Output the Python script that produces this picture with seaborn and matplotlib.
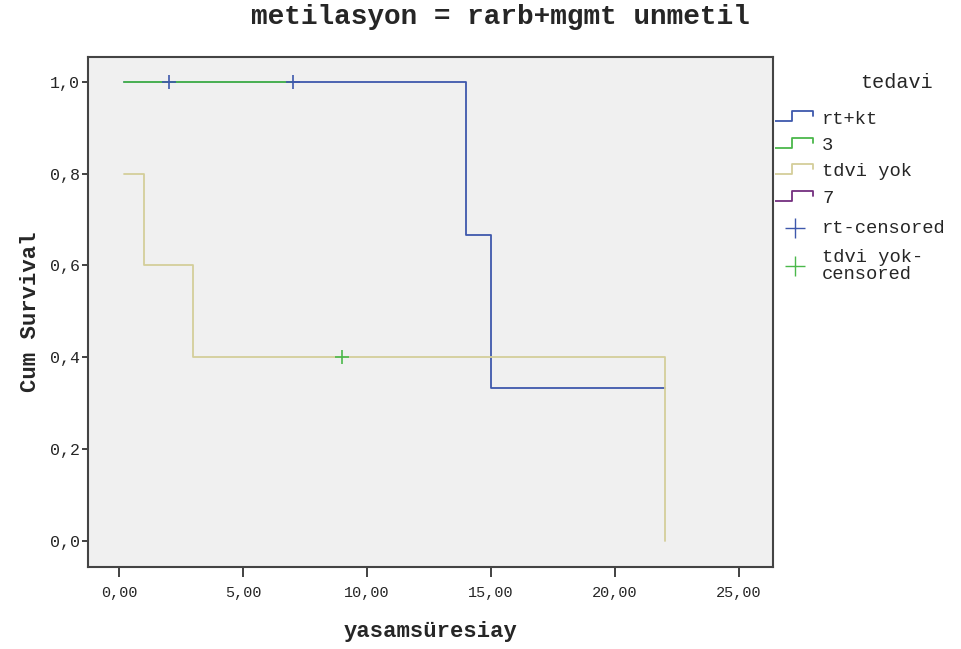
import matplotlib
matplotlib.use("Agg")
import matplotlib.pyplot as plt
import seaborn as sns
import pandas as pd

# Kaplan-Meier steps
groups = ["rt+kt", "3", "tdvi yok", "7"]
rt_time = [0.2, 14.0, 15.0, 22.0]
rt_surv = [1.0, 0.667, 0.333, 0.333]
g3_time = [0.2, 7.0]
g3_surv = [1.0, 1.0]
tdvi_time = [0.2, 1.0, 3.0, 22.0]
tdvi_surv = [0.8, 0.6, 0.4, 0.0]

rt_cens_time = [2.0, 7.0]
rt_cens_surv = [1.0, 1.0]
tdvi_cens_time = [9.0]
tdvi_cens_surv = [0.4]

xticks = [0, 5, 10, 15, 20, 25]
xticklabels = ["0,00", "5,00", "10,00", "15,00", "20,00", "25,00"]
yticks = [0.0, 0.2, 0.4, 0.6, 0.8, 1.0]
yticklabels = ["0,0", "0,2", "0,4", "0,6", "0,8", "1,0"]

colors = {"rt+kt": "#3e58ac", "3": "#4bb84b", "tdvi yok": "#d4ce9a", "7": "#742f7f"}
FONT = "Liberation Mono"

sns.set_style("white")
plt.rcParams["font.family"] = [FONT, "DejaVu Sans"]

fig = plt.figure(figsize=(9.61, 6.49), dpi=100)
ax = fig.add_axes([88 / 961, 82 / 649, 685 / 961, 510 / 649])
ax.set_facecolor("#f0f0f0")

rt = pd.DataFrame({"t": rt_time, "s": rt_surv})
g3 = pd.DataFrame({"t": g3_time, "s": g3_surv})
td = pd.DataFrame({"t": tdvi_time, "s": tdvi_surv})

sns.lineplot(data=rt, x="t", y="s", ax=ax, color=colors["rt+kt"], drawstyle="steps-post", lw=1.3, estimator=None)
sns.lineplot(data=td, x="t", y="s", ax=ax, color=colors["tdvi yok"], drawstyle="steps-post", lw=1.3, estimator=None)
sns.lineplot(data=g3, x="t", y="s", ax=ax, color=colors["3"], drawstyle="steps-post", lw=1.3, estimator=None)

ax.plot(rt_cens_time, rt_cens_surv, ls="none", marker="+", ms=10, mew=1.2, color=colors["rt+kt"])
ax.plot(tdvi_cens_time, tdvi_cens_surv, ls="none", marker="+", ms=10, mew=1.2, color=colors["3"])

ax.set_xlim(-1.25, 26.37)
ax.set_ylim(-0.057, 1.054)
ax.set_xticks(xticks)
ax.set_xticklabels(xticklabels, fontsize=11)
ax.set_yticks(yticks)
ax.set_yticklabels(yticklabels, fontsize=12)
ax.tick_params(axis="x", bottom=True, direction="out", length=7, width=1.3, color="#333333", pad=7)
ax.tick_params(axis="y", left=True, direction="out", length=4.5, width=1.3, color="#333333", pad=1.5)
for sp in ax.spines.values():
    sp.set_color("#444444")
    sp.set_linewidth(1.5)

ax.set_xlabel("yasamsüresiay", fontsize=16, fontweight="bold", labelpad=15)
ax.set_ylabel("Cum Survival", fontsize=16, fontweight="bold", labelpad=6)

fig.text(500 / 961, 1 - 17 / 649, "metilasyon = rarb+mgmt unmetil", fontsize=20,
         fontweight="bold", ha="center", va="center")

# legend drawn in pixel coordinates on the right
lg = fig.add_axes([775 / 961, 1 - 290 / 649, 186 / 961, 230 / 649])
lg.set_xlim(775, 961)
lg.set_ylim(290, 60)
lg.axis("off")
lg.text(897, 82, "tedavi", fontsize=14.5, ha="center", va="center")
for i, g in enumerate(groups):
    low = 121 + i * 26.5
    lg.plot([775, 792, 792, 813, 813], [low, low, low - 10, low - 10, low - 5],
            color=colors[g], lw=1.3)
    lg.text(822, low - 2, g, fontsize=13.5, va="center")
lg.plot([795], [228], marker="+", ms=14, mew=1.0, color=colors["rt+kt"])
lg.text(822, 228, "rt-censored", fontsize=13.5, va="center")
lg.plot([795], [266], marker="+", ms=14, mew=1.0, color=colors["3"])
lg.text(822, 266, "tdvi yok-\ncensored", fontsize=13.5, va="center", linespacing=1.0)

fig.savefig("out.png", dpi=100)
